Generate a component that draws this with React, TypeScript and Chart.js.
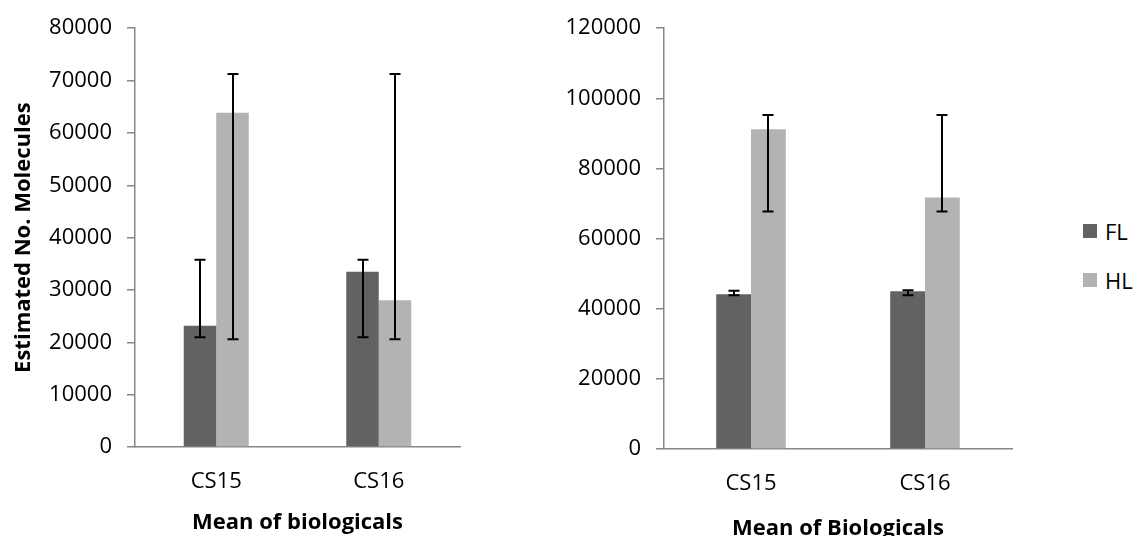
import React, { useEffect, useRef } from 'react';
import { Chart, registerables } from 'chart.js';

Chart.register(...registerables);

// Shared categories and series
const categories = ['CS15', 'CS16'];
const seriesNames = ['FL', 'HL'];
const seriesColors = ['#626262', '#b3b3b3'];

// Left panel: estimated molecule counts with error ranges
const leftFL = [23150, 33500];
const leftHL = [63850, 28050];
const leftFLLow = [20950, 20950];
const leftFLHigh = [35750, 35750];
const leftHLLow = [20600, 20600];
const leftHLHigh = [71250, 71250];
const leftTicks = [0, 10000, 20000, 30000, 40000, 50000, 60000, 70000, 80000];

// Right panel
const rightFL = [44150, 45000];
const rightHL = [91200, 71700];
const rightFLLow = [43850, 43850];
const rightFLHigh = [45100, 45300];
const rightHLLow = [67700, 67700];
const rightHLHigh = [95250, 95250];
const rightTicks = [0, 20000, 40000, 60000, 80000, 100000, 120000];

const FONT = "'Open Sans', sans-serif";
const FONT_SIZE = 22;
const AXIS_GREY = '#878787';

// Draws min/max whiskers on top of each bar
const errorBars = {
  id: 'errorBars',
  afterDatasetsDraw(chart: any) {
    const { ctx } = chart;
    const yScale = chart.scales.y;
    ctx.save();
    ctx.strokeStyle = '#000';
    ctx.lineWidth = 2;
    chart.data.datasets.forEach((ds: any, i: number) => {
      const meta = chart.getDatasetMeta(i);
      meta.data.forEach((bar: any, j: number) => {
        const lo = yScale.getPixelForValue(ds.errLow[j]);
        const hi = yScale.getPixelForValue(ds.errHigh[j]);
        const x = Math.round(bar.x);
        const cap = 5.5;
        ctx.beginPath();
        ctx.moveTo(x, lo);
        ctx.lineTo(x, hi);
        ctx.moveTo(x - cap, hi);
        ctx.lineTo(x + cap, hi);
        ctx.moveTo(x - cap, lo);
        ctx.lineTo(x + cap, lo);
        ctx.stroke();
      });
    });
    ctx.restore();
  },
};

type PanelProps = {
  fl: number[];
  hl: number[];
  flLow: number[];
  flHigh: number[];
  hlLow: number[];
  hlHigh: number[];
  ticks: number[];
  yTitle: string;
  xTitle: string;
  width: number;
  height: number;
  left: number;
  yAxisWidth: number;
  xAxisHeight: number;
  padTop: number;
  padRight: number;
  xTitlePadBottom: number;
};

function Panel(p: PanelProps) {
  const ref = useRef<HTMLCanvasElement | null>(null);

  useEffect(() => {
    if (!ref.current) return;
    const yMax = p.ticks[p.ticks.length - 1];
    const step = p.ticks[1] - p.ticks[0];
    const chart = new Chart(ref.current, {
      type: 'bar',
      data: {
        labels: categories,
        datasets: [
          {
            label: seriesNames[0],
            data: p.fl,
            backgroundColor: seriesColors[0],
            errLow: p.flLow,
            errHigh: p.flHigh,
          } as any,
          {
            label: seriesNames[1],
            data: p.hl,
            backgroundColor: seriesColors[1],
            errLow: p.hlLow,
            errHigh: p.hlHigh,
          } as any,
        ],
      },
      options: {
        responsive: false,
        animation: false,
        devicePixelRatio: 1,
        datasets: { bar: { categoryPercentage: 0.4, barPercentage: 1.0 } },
        layout: { padding: { top: p.padTop, right: p.padRight, bottom: 0, left: 0 } },
        plugins: {
          legend: { display: false },
          tooltip: { enabled: false },
        },
        scales: {
          x: {
            grid: { display: false, drawTicks: false },
            border: { display: true, color: AXIS_GREY, width: 1.5 },
            ticks: { color: '#000', padding: 22, font: { family: FONT, size: FONT_SIZE } },
            title: {
              display: true,
              text: p.xTitle,
              color: '#000',
              font: { family: FONT, size: FONT_SIZE, weight: 'bold', lineHeight: 1.2 },
              padding: { top: 0, bottom: p.xTitlePadBottom },
            },
            afterFit: (s: any) => {
              s.height = p.xAxisHeight;
            },
          },
          y: {
            min: 0,
            max: yMax,
            ticks: {
              stepSize: step,
              color: '#000',
              padding: 15,
              font: { family: FONT, size: FONT_SIZE },
              callback: (v: any) => String(v),
            },
            grid: {
              drawOnChartArea: false,
              drawTicks: true,
              tickLength: 8,
              color: AXIS_GREY,
              lineWidth: 1.5,
            },
            border: { display: true, color: AXIS_GREY, width: 1.5 },
            title: {
              display: p.yTitle !== '',
              text: p.yTitle,
              color: '#000',
              font: { family: FONT, size: FONT_SIZE, weight: 'bold', lineHeight: 1.2 },
              padding: { top: 11, bottom: 0 },
            },
            afterFit: (s: any) => {
              s.width = p.yAxisWidth;
            },
          },
        },
      } as any,
      plugins: [errorBars],
    });
    return () => chart.destroy();
  }, []);

  return (
    <canvas
      ref={ref}
      width={p.width}
      height={p.height}
      style={{ position: 'absolute', left: p.left, top: 0, width: p.width, height: p.height }}
    />
  );
}

export default function App() {
  return (
    <div
      style={{
        position: 'fixed',
        left: 0,
        top: 0,
        width: 1135,
        height: 536,
        overflow: 'hidden',
        background: '#fff',
      }}
    >
      <Panel
        fl={leftFL}
        hl={leftHL}
        flLow={leftFLLow}
        flHigh={leftFLHigh}
        hlLow={leftHLLow}
        hlHigh={leftHLHigh}
        ticks={leftTicks}
        yTitle="Estimated No. Molecules"
        xTitle="Mean of biologicals"
        width={480}
        height={536}
        left={0}
        yAxisWidth={135}
        xAxisHeight={89}
        padTop={21}
        padRight={20}
        xTitlePadBottom={0}
      />
      <Panel
        fl={rightFL}
        hl={rightHL}
        flLow={rightFLLow}
        flHigh={rightFLHigh}
        hlLow={rightHLLow}
        hlHigh={rightHLHigh}
        ticks={rightTicks}
        yTitle=""
        xTitle="Mean of Biologicals"
        width={560}
        height={545}
        left={480}
        yAxisWidth={184}
        xAxisHeight={96}
        padTop={25}
        padRight={28}
        xTitlePadBottom={3}
      />
      {/* Legend */}
      <div style={{ position: 'absolute', left: 1083, top: 220, fontFamily: FONT, fontSize: FONT_SIZE, color: '#000' }}>
        {seriesNames.map((name, i) => (
          <div
            key={name}
            style={{ display: 'flex', alignItems: 'center', height: 22, marginBottom: i === 0 ? 27 : 0 }}
          >
            <span
              style={{
                display: 'inline-block',
                width: 14,
                height: 14,
                background: seriesColors[i],
                marginRight: 8,
              }}
            />
            <span style={{ lineHeight: '22px' }}>{name}</span>
          </div>
        ))}
      </div>
    </div>
  );
}
